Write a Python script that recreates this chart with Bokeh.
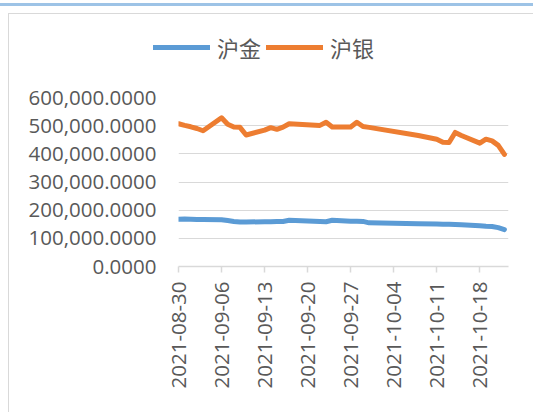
from datetime import datetime
from bokeh.plotting import figure
from bokeh.models import (Range1d, FixedTicker, DatetimeTickFormatter, Legend, LegendItem,
                          NumeralTickFormatter, ColumnDataSource)
from bokeh.embed import file_html
from bokeh.resources import INLINE
import math

dates = ["2021-08-30", "2021-08-31", "2021-09-01", "2021-09-02", "2021-09-03",
         "2021-09-06", "2021-09-07", "2021-09-08", "2021-09-09", "2021-09-10",
         "2021-09-13", "2021-09-14", "2021-09-15", "2021-09-16", "2021-09-17",
         "2021-09-22", "2021-09-23", "2021-09-24", "2021-09-27", "2021-09-28",
         "2021-09-29", "2021-09-30", "2021-10-08", "2021-10-11", "2021-10-12",
         "2021-10-13", "2021-10-14", "2021-10-15", "2021-10-18", "2021-10-19",
         "2021-10-20", "2021-10-21", "2021-10-22"]
gold = [168000, 169000, 168000, 167000, 167000,
        166000, 163000, 160000, 158000, 158000,
        159000, 159000, 160000, 160000, 164000,
        160000, 159000, 164000, 161000, 161000,
        160000, 155000, 152000, 151000, 150000,
        150000, 149000, 148000, 145000, 143000,
        142000, 138000, 131000]
silver = [507000, 501000, 496000, 490000, 482000,
          528000, 505000, 495000, 494000, 467000,
          484000, 493000, 487000, 495000, 507000,
          501000, 512000, 495000, 495000, 512000,
          497000, 494000, 465000, 452000, 441000,
          440000, 476000, 465000, 438000, 452000,
          446000, 430000, 398000]
tick_dates = ["2021-08-30", "2021-09-06", "2021-09-13", "2021-09-20",
              "2021-09-27", "2021-10-04", "2021-10-11", "2021-10-18"]
y_ticks = [0, 100000, 200000, 300000, 400000, 500000, 600000]
names = ["沪金", "沪银"]
colors = ["#5B9BD5", "#ED7D31"]

x = [datetime.strptime(d, "%Y-%m-%d") for d in dates]
src = ColumnDataSource(dict(x=x, gold=gold, silver=silver))

def ms(d):
    return (datetime.strptime(d, "%Y-%m-%d") - datetime(1970, 1, 1)).total_seconds() * 1000

GRAY = "#d9d9d9"

# ---- legend strip (top) ----
lp = figure(width=533, height=78, output_backend="svg", toolbar_location=None,
            x_range=Range1d(0, 1), y_range=Range1d(0, 1),
            x_axis_location=None, y_axis_location=None,
            min_border_left=0, min_border_right=0, min_border_top=0, min_border_bottom=0)
lp.outline_line_color = None
lp.xgrid.visible = False
lp.ygrid.visible = False
lp.background_fill_alpha = 0
lp.border_fill_alpha = 0
lp.styles = {"background": (
    "linear-gradient(#9dc3e6,#9dc3e6) 0 3px / 100% 3px no-repeat, "
    f"linear-gradient({GRAY},{GRAY}) 8px 13px / 100% 1px no-repeat, "
    f"linear-gradient({GRAY},{GRAY}) 8px 13px / 1px 100% no-repeat")}
lr = [lp.line("x", s, source=src, line_color=c, line_width=5, line_cap="round")
      for s, c in zip(["gold", "silver"], colors)]
legend = Legend(items=[LegendItem(label=n, renderers=[r]) for n, r in zip(names, lr)],
                orientation="horizontal", location=(153, 15),
                padding=0, margin=0, spacing=5, glyph_width=57, glyph_height=20,
                label_height=20, label_standoff=7,
                label_text_font="Noto Sans CJK SC", label_text_font_size="22px",
                label_text_color="#595959",
                border_line_color=None, background_fill_alpha=0)
lp.add_layout(legend, "center")

# ---- main chart ----
p = figure(width=533, height=334, output_backend="svg", toolbar_location=None,
           x_axis_type="datetime",
           x_range=Range1d(datetime(2021, 8, 30), datetime(2021, 10, 22, 16)),
           y_range=Range1d(0, 600000),
           min_border_left=178, min_border_right=25, min_border_top=19, min_border_bottom=146)
p.outline_line_color = None
p.border_fill_alpha = 0
p.styles = {"background": f"linear-gradient({GRAY},{GRAY}) 8px 0 / 1px 100% no-repeat"}

p.line("x", "gold", source=src, line_color=colors[0], line_width=5,
       line_join="round", line_cap="round")
p.line("x", "silver", source=src, line_color=colors[1], line_width=5,
       line_join="round", line_cap="round")

p.xgrid.grid_line_color = None
p.ygrid.grid_line_color = GRAY
p.ygrid.grid_line_width = 1

p.xaxis.ticker = FixedTicker(ticks=[ms(d) for d in tick_dates])
fmt = "%Y-%m-%d"
p.xaxis.formatter = DatetimeTickFormatter(days=fmt, months=fmt, years=fmt, hours=fmt,
                                          hourmin=fmt, minutes=fmt, minsec=fmt,
                                          seconds=fmt, milliseconds=fmt, microseconds=fmt)
p.xaxis.major_label_orientation = math.pi / 2
p.xaxis.axis_line_color = GRAY
p.xaxis.axis_line_width = 1.5
p.xaxis.major_tick_line_color = GRAY
p.xaxis.major_tick_line_width = 1.5
p.xaxis.major_tick_in = 0
p.xaxis.major_tick_out = 6
p.xaxis.minor_tick_line_color = None
p.xaxis.major_label_text_font = "Open Sans"
p.xaxis.major_label_text_font_size = "20.5px"
p.xaxis.major_label_text_color = "#595959"
p.xaxis.major_label_standoff = 9

p.yaxis.ticker = FixedTicker(ticks=y_ticks)
p.yaxis.formatter = NumeralTickFormatter(format="0,0.0000")
p.yaxis.axis_line_color = None
p.yaxis.major_tick_line_color = None
p.yaxis.minor_tick_line_color = None
p.yaxis.major_label_text_font = "Open Sans"
p.yaxis.major_label_text_font_size = "20.5px"
p.yaxis.major_label_text_color = "#595959"
p.yaxis.major_label_standoff = 16

open("out.html", "w").write(file_html([lp, p], INLINE))
